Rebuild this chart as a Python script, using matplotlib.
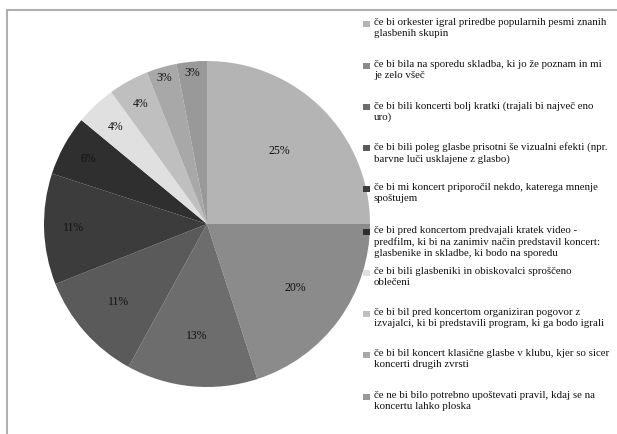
import numpy as np
import matplotlib
matplotlib.use("Agg")
import matplotlib.pyplot as plt
from matplotlib.lines import Line2D

# Survey answers (Slovene) and their shares in percent
labels = [
    "če bi orkester igral priredbe popularnih pesmi znanih\nglasbenih skupin",
    "če bi bila na sporedu skladba, ki jo že poznam in mi\nje zelo všeč",
    "če bi bili koncerti bolj kratki (trajali bi največ eno\nuro)",
    "če bi bili poleg glasbe prisotni še vizualni efekti (npr.\nbarvne luči usklajene z glasbo)",
    "če bi mi koncert priporočil nekdo, katerega mnenje\nspoštujem",
    "če bi pred koncertom predvajali kratek video -\npredfilm, ki bi na zanimiv način predstavil koncert:\nglasbenike in skladbe, ki bodo na sporedu",
    "če bi bili glasbeniki in obiskovalci sproščeno\noblečeni",
    "če bi bil pred koncertom organiziran pogovor z\nizvajalci, ki bi predstavili program, ki ga bodo igrali",
    "če bi bil koncert klasične glasbe v klubu, kjer so sicer\nkoncerti drugih zvrsti",
    "če ne bi bilo potrebno upoštevati pravil, kdaj se na\nkoncertu lahko ploska",
]
values = [25, 20, 13, 11, 11, 6, 4, 4, 3, 3]

colors = ['#b4b4b4', '#8b8b8b', '#6d6d6d', '#5a5a5a', '#3c3c3c',
          '#2f2f2f', '#e0e0e0', '#bfbfbf', '#a8a8a8', '#999999']
# radial position of each percentage label (fraction of radius)
label_r = [0.63, 0.67, 0.69, 0.72, 0.82, 0.83, 0.82, 0.84, 0.93, 0.93]

W, H = 617, 434
fig = plt.figure(figsize=(W / 100, H / 100), dpi=100)
serif = ['Liberation Serif', 'DejaVu Serif']

# outer frame (top and left edges visible)
fig.add_artist(Line2D([7 / W, 1], [1 - 10 / H, 1 - 10 / H], color='#b0b0b0', lw=1.5))
fig.add_artist(Line2D([7 / W, 7 / W], [0, 1 - 10 / H], color='#b0b0b0', lw=1.5))

cx, cy, R = 207, 224, 163
ax = fig.add_axes([(cx - R) / W, (H - cy - R) / H, 2 * R / W, 2 * R / H])
wedges, _ = ax.pie(values, colors=colors, startangle=90, counterclock=False,
                   radius=1, wedgeprops=dict(linewidth=0))
ax.set_xlim(-1, 1)
ax.set_ylim(-1, 1)
ax.axis('off')

for w, v, r in zip(wedges, values, label_r):
    ang = np.deg2rad((w.theta1 + w.theta2) / 2)
    ax.text(r * np.cos(ang), r * np.sin(ang), f"{v}%", ha='center', va='center',
            fontsize=8.5, family=serif, color='#111111')

# legend drawn by hand
first_line_y = [24, 66, 107, 148, 189, 232, 273, 314, 355, 397]
for lab, col, y in zip(labels, colors, first_line_y):
    fig.patches.append(plt.Rectangle((363 / W, 1 - (y + 3) / H), 7 / W, 6 / H,
                                     transform=fig.transFigure, facecolor=col,
                                     edgecolor='none'))
    fig.text(374 / W, 1 - (y - 6) / H, lab, ha='left', va='top', fontsize=7.8,
             family=serif, color='#111111', linespacing=1.3)

fig.savefig("out.png", dpi=100)
